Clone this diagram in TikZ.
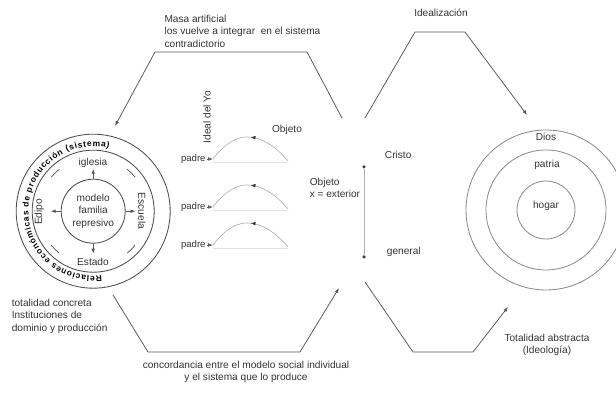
\documentclass[tikz,border=0pt]{standalone}
\usepackage{fontspec}
\setmainfont{Liberation Sans}
\usetikzlibrary{positioning,arrows.meta,decorations.markings,decorations.text}

\begin{document}
\begin{tikzpicture}[>={Latex[length=3.5pt,width=2.6pt]},
  every node/.style={font=\fontsize{7.2}{9}\selectfont,text=black!80},
  conn/.style={draw=black!65,line width=.55pt},
  ring/.style={draw=black!70,line width=.6pt},
  iring/.style={draw=black!45,line width=.6pt},
  bow/.style={draw=black!30,line width=.5pt,postaction={decorate},
    decoration={markings,mark=at position .5 with {\arrow[black!80]{>}}}},
  base/.style={draw=black!12,line width=.4pt},
  dot/.style={circle,fill=black!75,inner sep=0pt,minimum size=2.5pt}]
\useasboundingbox (0,0) rectangle (15.4,9.85);
\coordinate (lc) at (2.33,4.57);
\draw[ring] (lc) circle (1.925);
\draw[ring] (lc) circle (1.525);
\node[circle,ring,minimum size=1.6cm,align=center,inner sep=0pt] (fam) at (lc) {modelo\\familia\\represivo};
\node (igl) at (2.325,5.775) {iglesia};
\node (est) at (2.325,3.3) {Estado};
\node[rotate=90] (edi) at (0.98,4.55) {Edipo};
\node[rotate=-90] (esc) at (3.55,4.575) {Escuela};
\foreach \a in {0,90,180,270} \draw[conn,->] (fam.\a) -- ++(\a:.25);
\foreach \a in {45,135,225,315}
  \draw[conn] (lc) ++(\a+6:1.35) arc[start angle=\a+6,end angle=\a-6,radius=1.35];
\path[decorate,decoration={text along path,text align={fit to path},
  text={|\fontsize{6}{7}\selectfont\bfseries|Relaciones económicas de producción (sistema)}}]
  (lc) ++(277.5:1.62) arc[start angle=277.5,end angle=76,radius=1.62];
\node[anchor=north west,align=left] (tc) at (0.17,2.5) {totalidad concreta\\Instituciones de\\dominio y producción};

\node[rotate=90] (yo) at (5.175,6.925) {Ideal del Yo};
\node (obj) at (7.175,6.6) {Objeto};
\foreach \i/\y in {1/5.875,2/4.675,3/3.725}{
  \coordinate (l\i) at (5.325,\y);
  \coordinate (t\i) at (6.175,{\y+.55});
  \coordinate (r\i) at (7.2,{\y-.05});
  \coordinate (b\i) at (5.325,{\y-.08});
  \coordinate (c\i) at (7.2,{\y-.08});
  \draw[base] (b\i) -- (c\i);
  \draw[bow] (r\i) parabola bend (t\i) (l\i);
  \node[anchor=east,inner sep=1pt,font=\fontsize{6.8}{7}\selectfont] (p\i) at (5.18,\y) {padre};
  \draw[conn,->] (p\i) -- (l\i);
}
\node[anchor=west,align=left] (ext) at (7.62,5.15) {Objeto\\x = exterior};
\node[dot] (cr) at (9.1,5.675) {};
\node[dot] (ge) at (9.1,3.425) {};
\draw[black!30,line width=.4pt] (cr) -- (ge);
\node[anchor=west] (cri) at (9.5,5.975) {Cristo};
\node[anchor=west] (gen) at (9.55,3.55) {general};

\coordinate (rc) at (13.65,4.6);
\draw[iring] (rc) circle (2) (rc) circle (1.5) (rc) circle (.725);
\node (dios) at (13.65,6.42) {Dios};
\node (pat) at (13.675,5.725) {patria};
\node (hog) at (13.65,4.7) {hogar};
\node[align=center] (abs) at (13.675,1.225) {Totalidad abstracta\\(Ideología)};

\coordinate (m1) at (8.55,6.9);
\coordinate (m2) at (7.675,8.55);
\coordinate (m3) at (3.875,8.55);
\coordinate (m4) at (2.875,6.7);
\draw[conn,->] (m1) -- (m2) -- (m3) -- (m4);
\node[anchor=north west,align=left] (masa) at (3.99,9.6) {Masa artificial\\los vuelve a integrar\ \ en el sistema\\contradictorio};

\coordinate (i1) at (9.125,6.9);
\coordinate (i2) at (10.375,9.05);
\coordinate (i3) at (11.625,9.05);
\coordinate (i4) at (13.175,6.975);
\draw[conn,->] (i1) -- (i2) -- (i3) -- (i4);
\node (idz) at (11.025,9.525) {Idealización};

\coordinate (c1) at (2.825,2.475);
\coordinate (c2) at (3.7,1.05);
\coordinate (c3) at (7.5,1.05);
\coordinate (c4) at (8.475,2.65);
\draw[conn,->] (c1) -- (c2) -- (c3) -- (c4);
\node[align=center] (conc) at (6.15,.55) {concordancia entre el modelo social individual\\y el sistema que lo produce};

\coordinate (d1) at (9.125,2.8);
\coordinate (d2) at (10.325,1.05);
\coordinate (d3) at (11.825,1.05);
\coordinate (d4) at (12.7,2.175);
\draw[conn,->] (d1) -- (d2) -- (d3) -- (d4);
\end{tikzpicture}
\end{document}
